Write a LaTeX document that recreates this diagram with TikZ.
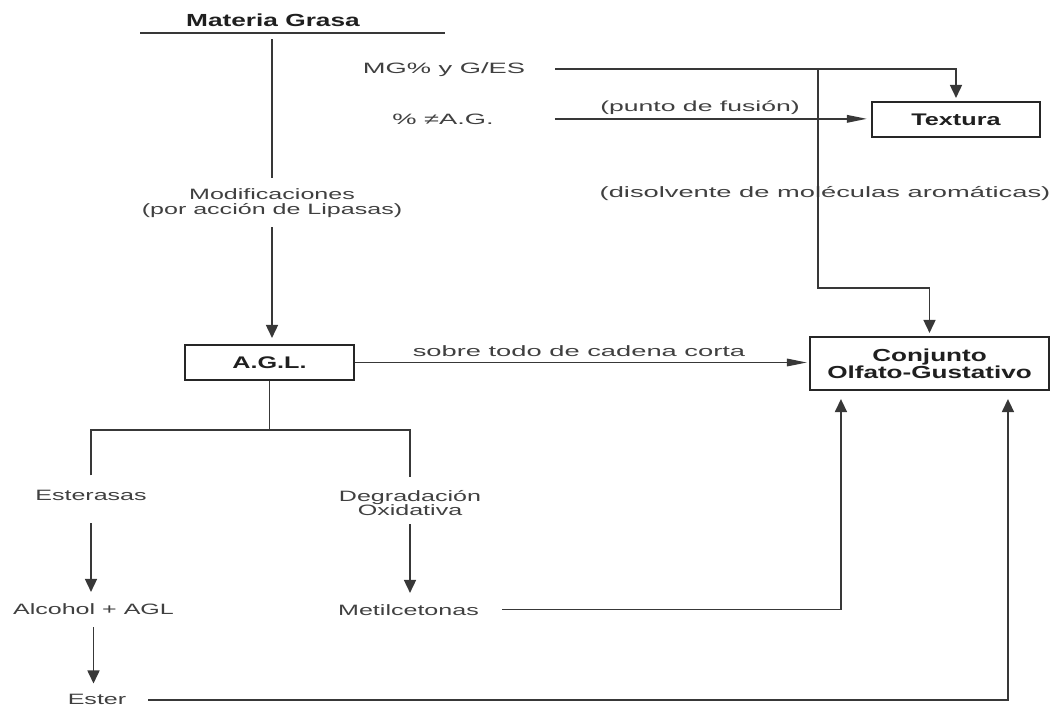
\documentclass[tikz,border=0pt]{standalone}
\usepackage{fontspec}
\setmainfont{Liberation Sans}
\newfontfamily\plainface{Liberation Sans}[FakeStretch=1.82]
\newfontfamily\plainnarrow{Liberation Sans}[FakeStretch=1.67]
\newfontfamily\heavyface{Liberation Sans}[FakeStretch=1.5]
\usetikzlibrary{arrows.meta,calc}

\tikzset{
  lbl/.style={inner sep=0pt, text=black!75, font=\plainface\fontsize{15}{14}\selectfont, align=center},
  lbln/.style={lbl, font=\plainnarrow\fontsize{15}{14.5}\selectfont},
  ttl/.style={inner sep=0pt, text=black!88, font=\heavyface\bfseries\fontsize{16.8}{16}\selectfont, align=center},
  box/.style={ttl, draw=black!85, line width=2.1pt},
  conn/.style={draw=black!78, line width=1.6pt},
  vtip/.style={conn, -{Triangle[length=13pt,width=12pt]}},
  htip/.style={conn, -{Triangle[length=20pt,width=7.5pt]}},
}

\begin{document}
\begin{tikzpicture}[x=1pt,y=-1pt]
  \useasboundingbox (0,0) rectangle (1052,707);
  \clip (0,0) rectangle (1052,707);
  \fill[white] (0,0) rectangle (1052,707);

  % heading and its rule
  \node[ttl, font=\heavyface\bfseries\fontsize{17.5}{17}\selectfont, anchor=base] (mat) at (273,26) {Materia Grasa};
  \coordinate (ul-l) at (140,33);
  \coordinate (ul-r) at (445,33);
  \draw[conn] (ul-l) -- (ul-r);

  % labels
  \node[lbl, anchor=base] (mg)  at (444,73)  {MG\% y G/ES};
  \node[lbl, anchor=base] (pct) at (443,124) {\% ≠A.G.};
  \node[lbl, anchor=base, font=\plainface\fontsize{14.6}{14}\selectfont] (fus) at (700,111) {(punto de fusión)};
  \node[lbl, anchor=base] (dis) at (825,197) {(disolvente de moléculas aromáticas)};
  \node[lbln] (mod) at (272,203) {Modificaciones\\(por acción de Lipasas)};
  \node[lbl, anchor=base] (sob) at (579,356) {sobre todo de cadena corta};
  \node[lbln, anchor=base] (est) at (91,500)  {Esterasas};
  \node[lbln] (deg) at (410,503) {Degradación\\Oxidativa};
  \node[lbln, anchor=base] (alc) at (93.5,614) {Alcohol + AGL};
  \node[lbln, anchor=base] (met) at (408.5,615) {Metilcetonas};
  \node[lbln, anchor=base] (ester) at (97,704) {Ester};

  % boxes
  \node[box, minimum width=168pt, minimum height=35pt] (tex) at (956,119.5) {Textura};
  \node[box, minimum width=169pt, minimum height=35pt] (agl) at (269.5,362.5) {A.G.L.};
  \node[box, minimum width=239pt, minimum height=53pt, font=\heavyface\bfseries\fontsize{17.4}{16}\selectfont] (conj) at (929.5,363.5) {Conjunto\\Olfato-Gustativo};

  % junction and bend points
  \coordinate (j1) at (818,0 |- mg.east);
  \coordinate (bend) at (818,288);
  \coordinate (sp) at ($(agl.south)+(0,49)$);
  \coordinate (c1) at ($(conj.south west)+(32,0)$);
  \coordinate (c2) at ($(conj.south west)+(199,0)$);

  % connectors
  \draw[conn, shorten <=13pt, shorten >=11pt] (mat.south -| mod.north) -- (mod.north);
  \draw[vtip, shorten <=10pt, shorten >=6pt] (mod.south) -- (mod.south |- agl.north);
  \draw[vtip, shorten <=30pt, shorten >=3pt] (mg.east) -| (tex.north);
  \draw[vtip, shorten >=3pt] (j1) -- (bend) -| (conj.north);
  \draw[htip, shorten <=61pt, shorten >=4pt] (pct.east) -- (pct.east -| tex.west);
  \draw[htip, shorten >=2pt] (agl.east) -- (agl.east -| conj.west);
  \draw[conn] (agl.south) -- (sp);
  \draw[conn, shorten <=14pt, shorten >=13pt] (est.north) |- (sp) -| (deg.north);
  \draw[vtip, shorten <=23pt, shorten >=11pt] (est.south) -- (est.south |- alc.north);
  \draw[vtip, shorten <=8pt, shorten >=11pt] (deg.south) -- (deg.south |- met.north);
  \draw[vtip, shorten <=13pt, shorten >=10pt] (alc.south) -- (alc.south |- ester.north);
  \draw[vtip, shorten <=23pt, shorten >=8pt] (met.east) -| (c1);
  \draw[vtip, shorten <=22pt, shorten >=8pt] ([yshift=-1pt]ester.east) -| (c2);
\end{tikzpicture}
\end{document}
